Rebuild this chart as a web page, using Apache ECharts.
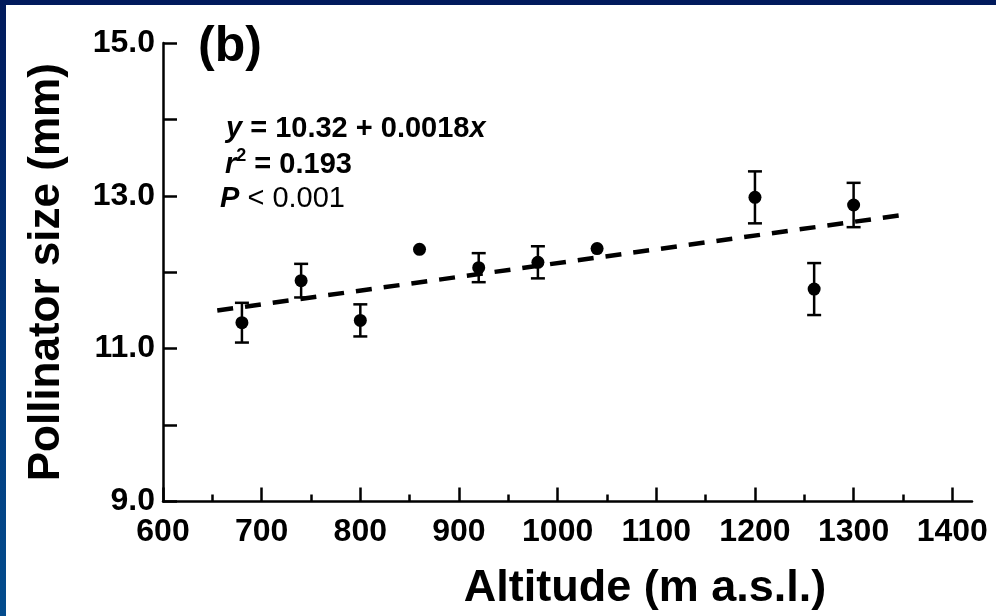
<!DOCTYPE html>
<html>
<head>
<meta charset="utf-8">
<script src="https://cdn.jsdelivr.net/npm/echarts@6/dist/echarts.min.js"></script>
<style>
  html, body { margin: 0; padding: 0; }
  body {
    width: 996px; height: 616px; overflow: hidden; position: relative;
    background: linear-gradient(to bottom, #011a5c 0%, #023b7e 60%, #034c8d 100%);
  }
  #chart {
    position: absolute; left: 6px; top: 5px;
    width: 990px; height: 611px; background: #ffffff;
  }
</style>
</head>
<body>
<div id="chart"></div>
<script>
// Mean pollinator size per sampling altitude, with error bars
const altitude = [680, 740, 800, 860, 920, 980, 1040, 1200, 1260, 1300];
const meanSize = [11.34, 11.89, 11.37, 12.30, 12.06, 12.13, 12.31, 12.98, 11.78, 12.88];
const sizeErr  = [0.26, 0.22, 0.21, 0, 0.19, 0.21, 0, 0.34, 0.34, 0.29];

// Fitted regression y = a + b x, drawn over the sampled range
const fitIntercept = 10.32;
const fitSlope = 0.0018;
const fitRange = [655, 1355];

// Axis ticks
const xMajorTicks = [600, 700, 800, 900, 1000, 1100, 1200, 1300, 1400];
const xMinorTicks = [650, 750, 850, 950, 1050, 1150, 1250, 1350];
const yLabelled = [9, 11, 13, 15];

const FONT = '"Liberation Sans", Arial, Helvetica, sans-serif';

const points = altitude.map((a, i) => [a, meanSize[i]]);
const bars = altitude.map((a, i) => [a, meanSize[i] - sizeErr[i], meanSize[i] + sizeErr[i]])
  .filter((d, i) => sizeErr[i] > 0);
const fitLine = fitRange.map(x => [x, fitIntercept + fitSlope * x]);

const statStyle = {
  fontFamily: FONT, fontWeight: 'bold', fontSize: 29, color: '#000', lineHeight: 35,
  rich: {
    i: { fontFamily: FONT, fontWeight: 'bold', fontStyle: 'italic', fontSize: 29, color: '#000', lineHeight: 35 },
    n: { fontFamily: FONT, fontWeight: 'normal', fontSize: 29, color: '#000', lineHeight: 35 },
    sup: { fontFamily: FONT, fontWeight: 'bold', fontSize: 18, color: '#000', lineHeight: 18, verticalAlign: 'top' }
  }
};

const chart = echarts.init(document.getElementById('chart'), null, { renderer: 'canvas' });

chart.setOption({
  animation: false,
  backgroundColor: '#ffffff',
  title: [
    {
      text: '(b)', left: 187, top: 12,
      textStyle: { fontFamily: FONT, fontWeight: 'bold', fontSize: 50, color: '#000' }
    },
    { text: '{i|y} = 10.32 + 0.0018{i|x}', left: 215, top: 101, textStyle: statStyle },
    { text: '{i|r}{sup|2} = 0.193', left: 214, top: 137, textStyle: statStyle },
    { text: '{i|P}{n| < 0.001}', left: 209, top: 171, textStyle: statStyle },
    {
      text: 'Altitude (m a.s.l.)', left: 634, top: 556, textAlign: 'center',
      textStyle: { fontFamily: FONT, fontWeight: 'bold', fontSize: 45, color: '#000' }
    }
  ],
  grid: { left: 157, top: 38, right: 24, bottom: 114.5, containLabel: false },
  xAxis: [
    {
      type: 'value', min: 600, max: 1420, position: 'bottom',
      splitLine: { show: false },
      axisLine: { show: true, lineStyle: { color: '#000', width: 2.5 } },
      axisTick: { show: true, inside: true, length: 14, customValues: xMajorTicks,
                  lineStyle: { color: '#000', width: 2.5 } },
      axisLabel: { customValues: xMajorTicks, margin: 15, color: '#000',
                   fontFamily: FONT, fontWeight: 'bold', fontSize: 32,
                   formatter: v => String(v) }
    },
    {
      type: 'value', min: 600, max: 1420, position: 'bottom', offset: 0,
      splitLine: { show: false },
      axisLine: { show: false },
      axisTick: { show: true, inside: true, length: 7, customValues: xMinorTicks,
                  lineStyle: { color: '#000', width: 2.5 } },
      axisLabel: { show: false }
    }
  ],
  yAxis: {
    type: 'value', min: 9, max: 15, interval: 1,
    name: 'Pollinator size (mm)', nameLocation: 'middle', nameGap: 94,
    nameTextStyle: { fontFamily: FONT, fontWeight: 'bold', fontSize: 44, color: '#000' },
    splitLine: { show: false },
    axisLine: { show: true, lineStyle: { color: '#000', width: 2.5 } },
    axisTick: { show: true, inside: true, length: 14, lineStyle: { color: '#000', width: 2.5 } },
    axisLabel: {
      margin: 8, color: '#000', fontFamily: FONT, fontWeight: 'bold', fontSize: 32,
      formatter: v => (yLabelled.indexOf(v) >= 0 ? v.toFixed(1) : '')
    }
  },
  series: [
    {
      type: 'line', data: fitLine, xAxisIndex: 0, symbol: 'none', silent: true,
      lineStyle: { color: '#000', width: 4.5, type: [16, 12] }, z: 2
    },
    {
      type: 'custom', data: bars, xAxisIndex: 0, z: 3,
      renderItem: (params, api) => {
        const x = api.value(0);
        const lo = api.coord([x, api.value(1)]);
        const hi = api.coord([x, api.value(2)]);
        const half = 7;
        const style = { stroke: '#000', lineWidth: 2.5, fill: null };
        return {
          type: 'group',
          children: [
            { type: 'line', shape: { x1: lo[0], y1: lo[1], x2: hi[0], y2: hi[1] }, style },
            { type: 'line', shape: { x1: lo[0] - half, y1: lo[1], x2: lo[0] + half, y2: lo[1] }, style },
            { type: 'line', shape: { x1: hi[0] - half, y1: hi[1], x2: hi[0] + half, y2: hi[1] }, style }
          ]
        };
      }
    },
    {
      type: 'scatter', data: points, xAxisIndex: 0, symbol: 'circle', symbolSize: 13,
      itemStyle: { color: '#000', opacity: 1 }, z: 4
    }
  ]
});
</script>
</body>
</html>
